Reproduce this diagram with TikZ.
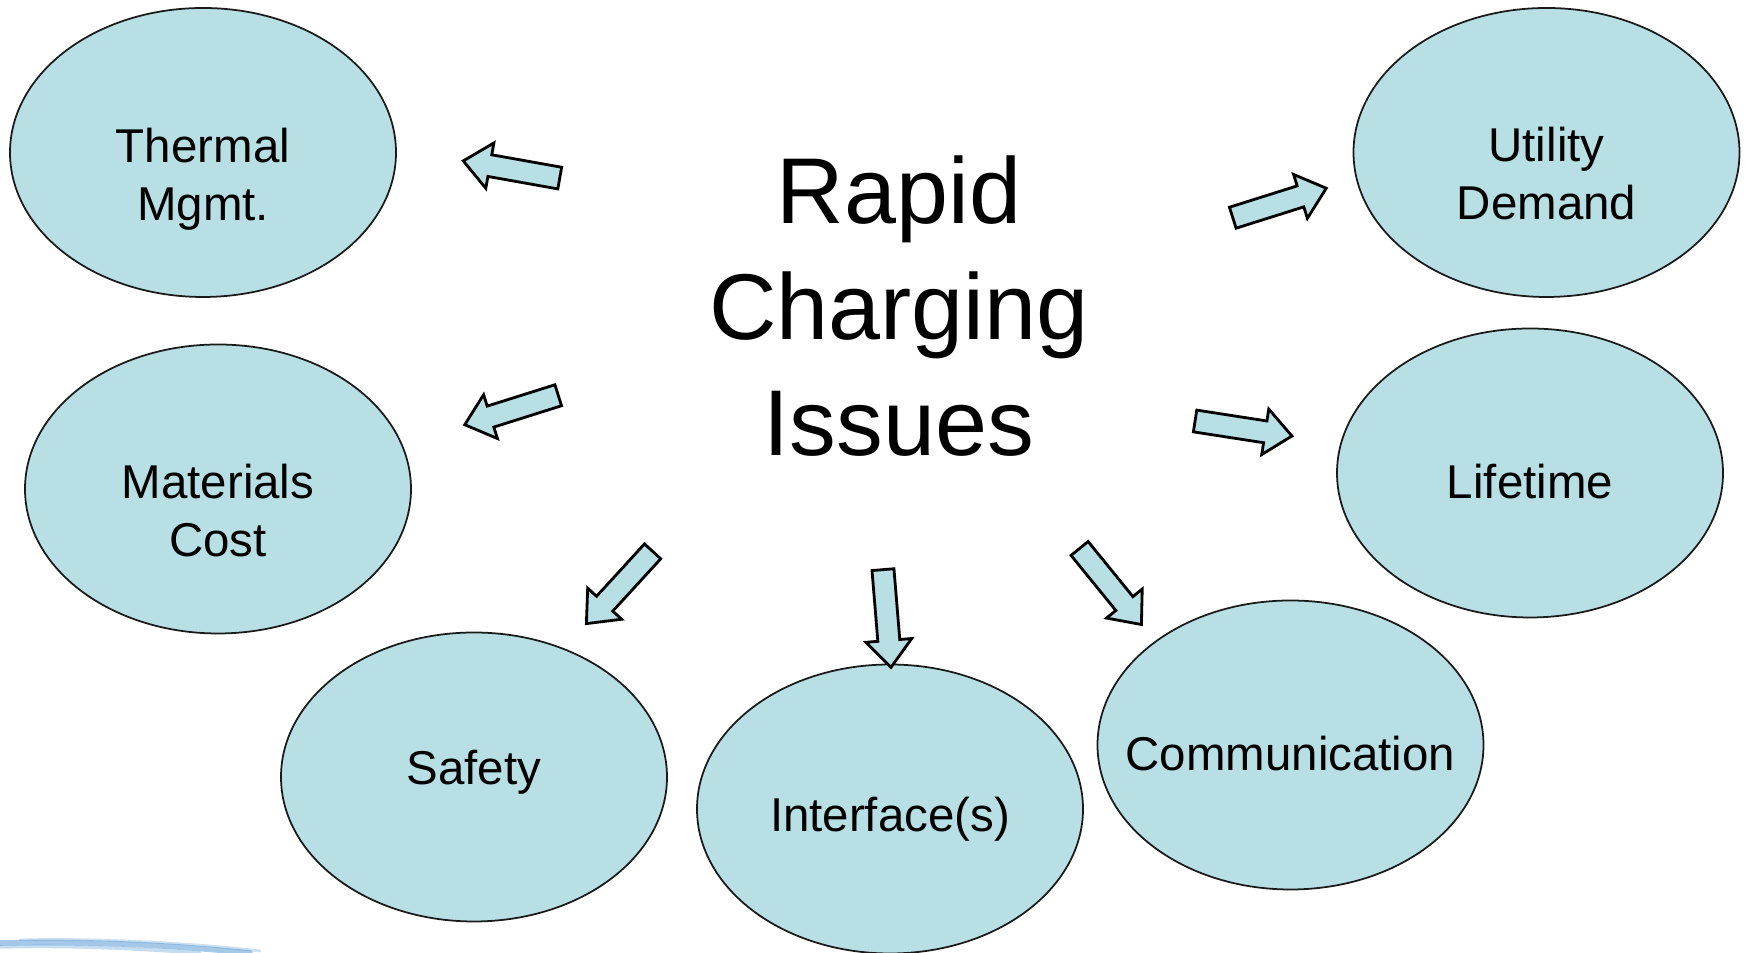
\documentclass[tikz,border=0pt]{standalone}
\usepackage{fontspec}
\setmainfont{Liberation Sans}
\usetikzlibrary{shapes.geometric}
\definecolor{cbubble}{HTML}{B8E0E4}
\definecolor{cedge}{HTML}{1A1A1A}
\definecolor{cswoosh}{HTML}{5B9BD5}
\tikzset{
  bubble/.style={ellipse, draw=cedge, fill=cbubble, line width=0.5pt, minimum width=3.86cm, minimum height=2.89cm, inner sep=0pt},
  bubtext/.style={align=center, font=\fontsize{13.5}{16.5}\selectfont},
  hubtext/.style={align=center, font=\fontsize{26.6}{32.9}\selectfont},
  fat/.style={draw=black, fill=cbubble, line width=0.8pt, line join=miter},
  fatarrow/.pic={\draw[fat] (-0.49,-0.11) -- (0.22,-0.11) -- (0.22,-0.23) -- (0.49,0) -- (0.22,0.23) -- (0.22,0.11) -- (-0.49,0.11) -- cycle;},
  swoosh/.style={draw=cswoosh, line width=#1, line cap=round},
}

\begin{document}
\begin{tikzpicture}
  \useasboundingbox (0,0) rectangle (17.46,9.53);
  % centre title
  \node[hubtext] (hub) at (8.99,6.47) {Rapid\\Charging\\Issues};
  % bubbles
  \node[bubble] (thermal) at (2.03,8.005) {};
  \node[bubble] (materials) at (2.18,4.64) {};
  \node[bubble] (safety) at (4.74,1.76) {};
  \node[bubble] (interface) at (8.90,1.44) {};
  \node[bubble] (comm) at (12.905,2.08) {};
  \node[bubble] (lifetime) at (15.30,4.80) {};
  \node[bubble] (utility) at (15.465,8.005) {};
  \node[bubtext] (thermal-t) at ([yshift=-2.65mm]thermal.center) {Thermal\\Mgmt.};
  \node[bubtext] (materials-t) at ([yshift=-2.15mm]materials.center) {Materials\\Cost};
  \node[bubtext] (safety-t) at ([yshift=0.45mm]safety.center) {Safety};
  \node[bubtext] (interface-t) at ([yshift=-1.05mm]interface.center) {Interface(s)};
  \node[bubtext] (comm-t) at ([yshift=-0.9mm]comm.center) {Communication};
  \node[bubtext] (lifetime-t) at ([yshift=-0.85mm]lifetime.center) {Lifetime};
  \node[bubtext] (utility-t) at ([yshift=-2.15mm]utility.center) {Utility\\Demand};
  % block arrows
  \pic[rotate=169.9] at (5.115,7.835) {fatarrow};
  \pic[rotate=-162.5] at (5.115,5.43) {fatarrow};
  \pic[rotate=-132.5] at (6.195,3.655) {fatarrow};
  \pic[rotate=-85.3] at (8.87,3.345) {fatarrow};
  \pic[rotate=-50.9] at (11.105,3.665) {fatarrow};
  \pic[rotate=-8.8] at (12.435,5.245) {fatarrow};
  \pic[rotate=17.5] at (12.795,7.5) {fatarrow};
  % slide swoosh, bottom left
  \draw[swoosh=1.6pt, opacity=0.55] (0,0.10) .. controls (0.9,0.12) and (1.7,0.08) .. (2.5,0.0);
  \draw[swoosh=1.0pt, opacity=0.35] (0,0.06) .. controls (0.8,0.08) and (1.4,0.04) .. (2.0,0.0);
  \draw[swoosh=0.8pt, opacity=0.3] (0.2,0.13) .. controls (1.0,0.15) and (1.9,0.10) .. (2.6,0.02);
\end{tikzpicture}
\end{document}
